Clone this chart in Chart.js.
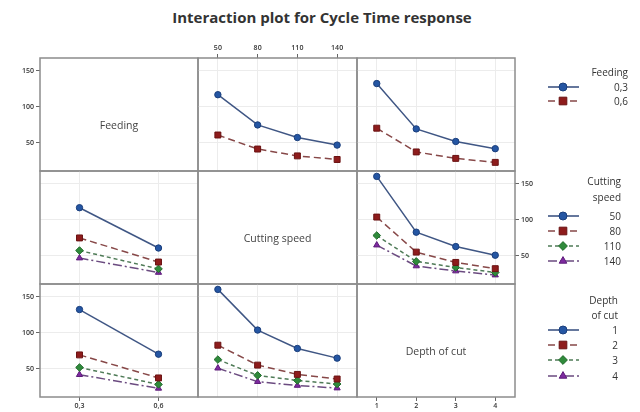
<!DOCTYPE html>
<html>
<head>
<meta charset="utf-8">
<script src="https://cdn.jsdelivr.net/npm/chart.js@4.4.1/dist/chart.umd.min.js"></script>
<style>
  html, body { margin: 0; padding: 0; background: #fff; overflow: hidden; }
  #wrap { position: relative; width: 640px; height: 412px; font-family: "Open Sans", "Noto Sans", sans-serif; color: #333; }
  #title { position: absolute; left: 0; width: 644px; top: 7px; text-align: center; font-weight: bold; font-size: 15px; color: #333; }
  canvas.panel { position: absolute; }
  .diag { position: absolute; text-align: center; font-size: 10.5px; color: #444; }
  .lg { position: absolute; font-size: 10px; text-align: right; height: 14px; line-height: 14px; color: #333; white-space: nowrap; }
  #legendSymbols { position: absolute; left: 530px; top: 0; }
</style>
</head>
<body>
<div id="wrap">
  <div id="title">Interaction plot for Cycle Time response</div>
  <canvas id="legendSymbols" width="110" height="412"></canvas>
</div>
<script>
// Factor levels (tick labels)
const feedLevels = ['0,3', '0,6'];
const speedLevels = ['50', '80', '110', '140'];
const depthLevels = ['1', '2', '3', '4'];

// Mean cycle time, Feeding level × Cutting speed
const feed03BySpeed = [117, 75, 57.5, 47];
const feed06BySpeed = [61, 41.5, 32, 27];

// Mean cycle time, Feeding level × Depth of cut
const feed03ByDepth = [132.5, 69.5, 52, 42];
const feed06ByDepth = [70.5, 37.5, 28.5, 23];

// Mean cycle time, Cutting speed × Depth of cut
const speed50ByDepth = [160.5, 83, 63, 51];
const speed80ByDepth = [104, 55.3, 41, 32.3];
const speed110ByDepth = [78.4, 42.4, 34, 27];
const speed140ByDepth = [65, 36, 29, 23.4];

// Shared response axis
const yMin = 11, yMax = 168;
const yTickValues = [50, 100, 150];

const factors = [
  { name: 'Feeding', levels: feedLevels, legendTitle: ['Feeding'] },
  { name: 'Cutting speed', levels: speedLevels, legendTitle: ['Cutting', 'speed'] },
  { name: 'Depth of cut', levels: depthLevels, legendTitle: ['Depth', 'of cut'] }
];

const pairMeans = {
  '0-1': [feed03BySpeed, feed06BySpeed],
  '0-2': [feed03ByDepth, feed06ByDepth],
  '1-2': [speed50ByDepth, speed80ByDepth, speed110ByDepth, speed140ByDepth]
};

// rows = levels of the trace factor r, columns = levels of the x factor c
function cellMeans(r, c) {
  if (r < c) return pairMeans[r + '-' + c];
  const m = pairMeans[c + '-' + r];
  return m[0].map((_, i) => m.map(row => row[i]));
}

const traceStyles = [
  { fill: '#2556a3', edge: '#1b3f7c', line: '#3f5684', point: 'circle',   dash: [],           r: 3.2, lr: 4 },
  { fill: '#8e1c1c', edge: '#6a1212', line: '#874848', point: 'rect',     dash: [7, 4],       r: 4.2, lr: 5.4 },
  { fill: '#2f8a3b', edge: '#1f6a2a', line: '#4f7b57', point: 'rectRot',  dash: [4, 3],       r: 3.8, lr: 4.4 },
  { fill: '#7e2aa0', edge: '#5e1d7a', line: '#6b4b80', point: 'triangle', dash: [9, 3, 2, 3], r: 3.6, lr: 4.4 }
];

// Grid geometry of the matrix
const colX = [40, 198, 357, 515];
const rowY = [58, 171, 284, 397];
const M = 24;
const tickFont = { family: '"Open Sans", "Noto Sans", sans-serif', size: 7, weight: '600' };

const framePlugin = {
  id: 'frame',
  afterDraw(chart) {
    const a = chart.chartArea, ctx = chart.ctx;
    ctx.save();
    ctx.strokeStyle = '#8c8c8c';
    ctx.lineWidth = 1.5;
    ctx.strokeRect(a.left, a.top, a.right - a.left, a.bottom - a.top);
    ctx.restore();
  }
};

function fixSize(prop) {
  return s => {
    s[prop] = M;
    s.paddingLeft = s.paddingRight = s.paddingTop = s.paddingBottom = 0;
  };
}

const wrap = document.getElementById('wrap');

function makePanel(r, c) {
  const diag = r === c;
  const xPos = c === 1 ? 'top' : 'bottom';
  const yPos = r === 1 ? 'right' : 'left';
  const showX = (c === 1 && r === 0) || (c !== 1 && r === 2);
  const showY = (r !== 1 && c === 0) || (r === 1 && c === 2);
  const w = colX[c + 1] - colX[c], h = rowY[r + 1] - rowY[r];

  const cv = document.createElement('canvas');
  cv.className = 'panel';
  cv.width = w + 2 * M; cv.height = h + 2 * M;
  cv.style.width = cv.width + 'px'; cv.style.height = cv.height + 'px';
  cv.style.left = (colX[c] - M) + 'px';
  cv.style.top = (rowY[r] - M) + 'px';
  wrap.appendChild(cv);

  const datasets = [];
  if (!diag) {
    cellMeans(r, c).forEach((vals, i) => {
      const st = traceStyles[i];
      datasets.push({
        label: factors[r].levels[i],
        data: vals,
        borderColor: st.line,
        borderWidth: 1.5,
        borderDash: st.dash,
        pointStyle: st.point,
        pointRadius: st.r,
        pointBackgroundColor: st.fill,
        pointBorderColor: st.edge,
        pointBorderWidth: 1,
        tension: 0,
        fill: false
      });
    });
  }

  new Chart(cv, {
    type: 'line',
    data: { labels: factors[c].levels, datasets },
    plugins: [framePlugin],
    options: {
      responsive: false,
      animation: false,
      devicePixelRatio: 1,
      layout: { padding: {
        left: yPos === 'left' ? 0 : M, right: yPos === 'right' ? 0 : M,
        top: xPos === 'top' ? 0 : M, bottom: xPos === 'bottom' ? 0 : M } },
      plugins: { legend: { display: false }, tooltip: { enabled: false } },
      scales: {
        x: {
          type: 'category', offset: true, position: xPos,
          grid: { display: !diag || showX, drawOnChartArea: !diag, color: '#ececec',
                  drawTicks: showX, tickLength: 4, tickColor: '#666' },
          border: { display: false },
          ticks: { display: showX, font: tickFont, color: '#333', padding: xPos === 'top' ? 2 : 1,
                   autoSkip: false, maxRotation: 0 },
          afterFit: fixSize('height')
        },
        y: {
          type: 'linear', min: yMin, max: yMax, position: yPos,
          afterBuildTicks: s => { s.ticks = yTickValues.map(v => ({ value: v })); },
          grid: { display: !diag || showY, drawOnChartArea: !diag, color: '#ececec',
                  drawTicks: showY, tickLength: 4, tickColor: '#666' },
          border: { display: false },
          ticks: { display: showY, font: tickFont, color: '#333', padding: 2 },
          afterFit: fixSize('width')
        }
      }
    }
  });

  if (diag) {
    // factor name sits a little below the middle of its panel
    const d = document.createElement('div');
    d.className = 'diag';
    d.textContent = factors[r].name;
    d.style.left = colX[c] + 'px';
    d.style.width = w + 'px';
    d.style.top = (rowY[r] + h / 2 + 10 - 7) + 'px';
    d.style.lineHeight = '14px';
    wrap.appendChild(d);
  }
}

for (let r = 0; r < 3; r++) for (let c = 0; c < 3; c++) makePanel(r, c);

// Legends on the right
const legendBlocks = [
  { f: 0, right: 628, titleY: [72], itemY: [87, 101] },
  { f: 1, right: 621, titleY: [181, 197], itemY: [216, 231, 246, 261] },
  { f: 2, right: 618, titleY: [300, 315], itemY: [330, 345, 360, 376] }
];
const lc = document.getElementById('legendSymbols').getContext('2d');
const LX = 530;

function addText(txt, right, y) {
  const d = document.createElement('div');
  d.className = 'lg';
  d.textContent = txt;
  d.style.right = (640 - right) + 'px';
  d.style.top = (y - 7) + 'px';
  wrap.appendChild(d);
}

legendBlocks.forEach(b => {
  factors[b.f].legendTitle.forEach((t, i) => addText(t, b.right, b.titleY[i]));
  factors[b.f].levels.forEach((lvl, i) => {
    const y = b.itemY[i], st = traceStyles[i];
    addText(lvl, b.right, y);
    lc.save();
    lc.strokeStyle = st.line;
    lc.lineWidth = 1.6;
    lc.setLineDash(st.dash);
    lc.beginPath();
    lc.moveTo(548 - LX, y); lc.lineTo(579 - LX, y);
    lc.stroke();
    lc.setLineDash([]);
    lc.fillStyle = st.fill;
    lc.strokeStyle = st.edge;
    lc.lineWidth = 1;
    Chart.helpers.drawPoint(lc, { pointStyle: st.point, radius: st.lr, rotation: 0, borderWidth: 1 }, 563 - LX, y);
    lc.restore();
  });
});
</script>
</body>
</html>
